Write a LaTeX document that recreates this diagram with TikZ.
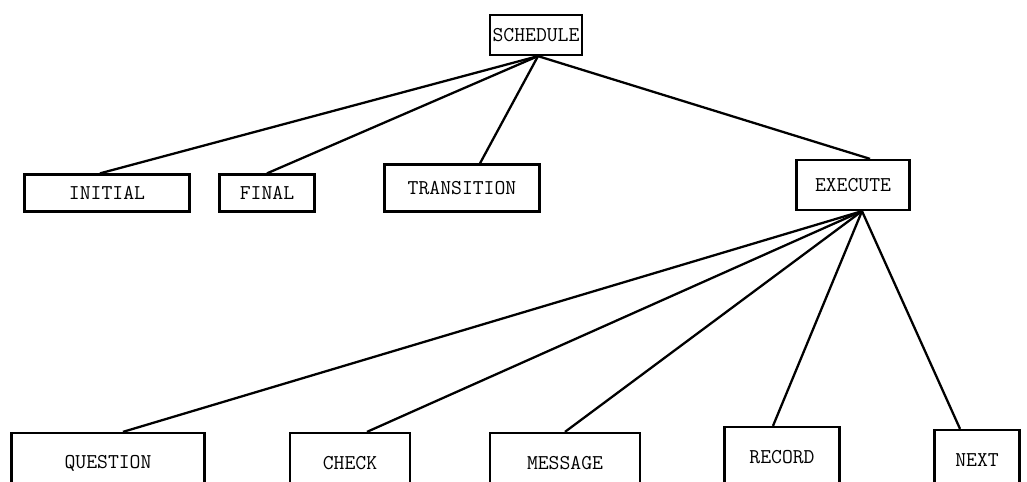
\documentclass[tikz,border=0pt]{standalone}
\begin{document}
\begin{tikzpicture}[x = 0.02cm, y = -0.02cm, line width = 1.3pt,
		box/.style = {draw, rectangle, inner sep = 0pt, font = \ttfamily\large}]
		\useasboundingbox (0, 0) rectangle (1027, 482);
		\clip (0, 0) rectangle (1027, 482);
		% top level
		\node[box, minimum width = 1.84cm, minimum height = 0.8cm] (schedule) at (536, 35) {SCHEDULE};
		% second level
		\node[box, minimum width = 3.3cm, minimum height = 0.74cm] (initial) at (107, 193) {INITIAL};
		\node[box, minimum width = 1.9cm, minimum height = 0.74cm] (final) at (267, 193) {FINAL};
		\node[box, minimum width = 3.1cm, minimum height = 0.94cm] (transition) at (462, 188) {TRANSITION};
		\node[box, minimum width = 2.26cm, minimum height = 1.0cm] (execute) at (853, 185) {EXECUTE};
		% third level
		\node[box, minimum width = 3.86cm, minimum height = 1.2cm] (question) at (108, 463) {QUESTION};
		\node[box, minimum width = 2.4cm, minimum height = 1.2cm] (check) at (350, 463) {CHECK};
		\node[box, minimum width = 3.0cm, minimum height = 1.2cm] (message) at (565, 463) {MESSAGE};
		\node[box, minimum width = 2.3cm, minimum height = 1.2cm] (record) at (782, 457) {RECORD};
		\node[box, minimum width = 1.7cm, minimum height = 1.2cm] (next) at (977, 460) {NEXT};
		\coordinate (s) at ([xshift = 0.04cm]schedule.south);
		\coordinate (e) at ([xshift = 0.18cm]execute.south);
		\draw (s) -- ([xshift = -0.14cm]initial.north);
		\draw (s) -- (final.north);
		\draw (s) -- ([xshift = 0.36cm]transition.north);
		\draw (s) -- ([xshift = 0.34cm]execute.north);
		\draw (e) -- ([xshift = 0.3cm]question.north);
		\draw (e) -- ([xshift = 0.34cm]check.north);
		\draw (e) -- (message.north);
		\draw (e) -- ([xshift = -0.18cm]record.north);
		\draw (e) -- ([xshift = -0.34cm]next.north);
	\end{tikzpicture}
\end{document}
